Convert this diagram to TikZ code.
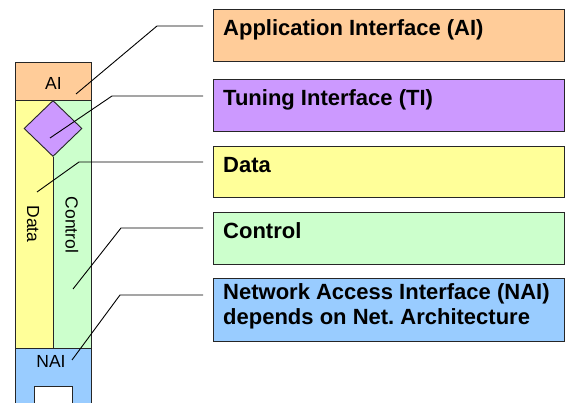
\documentclass[tikz,border=0pt]{standalone}
\usepackage{fontspec}
\setmainfont{Liberation Sans}
\usetikzlibrary{shapes.geometric}
\definecolor{aicol}{HTML}{FFCC99}
\definecolor{ticol}{HTML}{CC99FF}
\definecolor{datacol}{HTML}{FFFF99}
\definecolor{ctrlcol}{HTML}{CCFFCC}
\definecolor{naicol}{HTML}{99CCFF}
\frenchspacing

\begin{document}
\begin{tikzpicture}[x=1pt,y=-1pt,
    box/.style={draw=black!85,line width=0.9pt},
    infobox/.style={box,anchor=north west,minimum width=351pt,inner sep=0pt},
    infotext/.style={anchor=base west,inner sep=0pt,align=left,
      font=\bfseries\fontsize{22}{25}\selectfont},
    coltext/.style={inner sep=0pt,font=\fontsize{17.5}{20}\selectfont},
    lead/.style={line width=0.9pt}]
    \useasboundingbox (0,0) rectangle (565,403);
    \clip (0,0) rectangle (565,403);
    % left column
    \fill[datacol] (15,100) rectangle (53,348);
    \fill[ctrlcol] (53,100) rectangle (91,348);
    \draw[box] (15,100) -- (15,348) (91,100) -- (91,348);
    \node[box,fill=aicol,anchor=north west,inner sep=0pt,minimum width=76pt,minimum height=38pt] (ai) at (15,62) {};
    \node[coltext] at ([yshift=-2pt]ai.center) {AI};
    \node[box,fill=ticol,diamond,inner sep=0pt,minimum width=58pt,minimum height=56pt] (tidia) at (53,128.5) {};
    \draw[box] (tidia.south) -- (53,348);
    \node[coltext,rotate=-90] at (33,224) {Data};
    \node[coltext,rotate=-90] at (72,225) {Control};
    \node[box,fill=naicol,anchor=north west,inner sep=0pt,minimum width=76pt,minimum height=70pt] (nai) at (15,348) {};
    \node[coltext] at (51,361) {NAI};
    \draw[box,fill=white] (34,386) rectangle (72,410);
    % boxes on the right
    \node[infobox,fill=aicol,minimum height=52pt] (aibox) at (213,9) {};
    \node[infobox,fill=ticol,minimum height=52pt] (tibox) at (213,79) {};
    \node[infobox,fill=datacol,minimum height=51pt] (databox) at (213,146) {};
    \node[infobox,fill=ctrlcol,minimum height=52pt] (ctrlbox) at (213,212) {};
    \node[infobox,fill=naicol,minimum height=63pt] (naibox) at (213,278) {};
    \node[infotext] at ([xshift=10pt,yshift=-27pt]aibox.north west) {Application Interface (AI)};
    \node[infotext] at ([xshift=10pt,yshift=-27pt]tibox.north west) {Tuning Interface (TI)};
    \node[infotext] at ([xshift=10pt,yshift=-27pt]databox.north west) {Data};
    \node[infotext] at ([xshift=10pt,yshift=-27pt]ctrlbox.north west) {Control};
    \node[infotext] at ([xshift=10pt,yshift=-47pt]naibox.north west) {Network Access Interface (NAI)\\depends on Net. Architecture};
    % leader lines
    \coordinate (aiend) at (76,94);
    \coordinate (tiend) at (50,138);
    \coordinate (dataend) at (37,192);
    \coordinate (ctrlend) at (73,289);
    \coordinate (naiend) at (72,360);
    \draw[lead] (aiend) -- (157,26) -- ([xshift=-10pt,yshift=-17pt]aibox.north west);
    \draw[lead] (tiend) -- (112,96) -- ([xshift=-10pt,yshift=-17pt]tibox.north west);
    \draw[lead] (dataend) -- (79,162) -- ([xshift=-10pt,yshift=-16pt]databox.north west);
    \draw[lead] (ctrlend) -- (121,228) -- ([xshift=-10pt,yshift=-16pt]ctrlbox.north west);
    \draw[lead] (naiend) -- (120,295) -- ([xshift=-10pt,yshift=-17pt]naibox.north west);
  \end{tikzpicture}
\end{document}
